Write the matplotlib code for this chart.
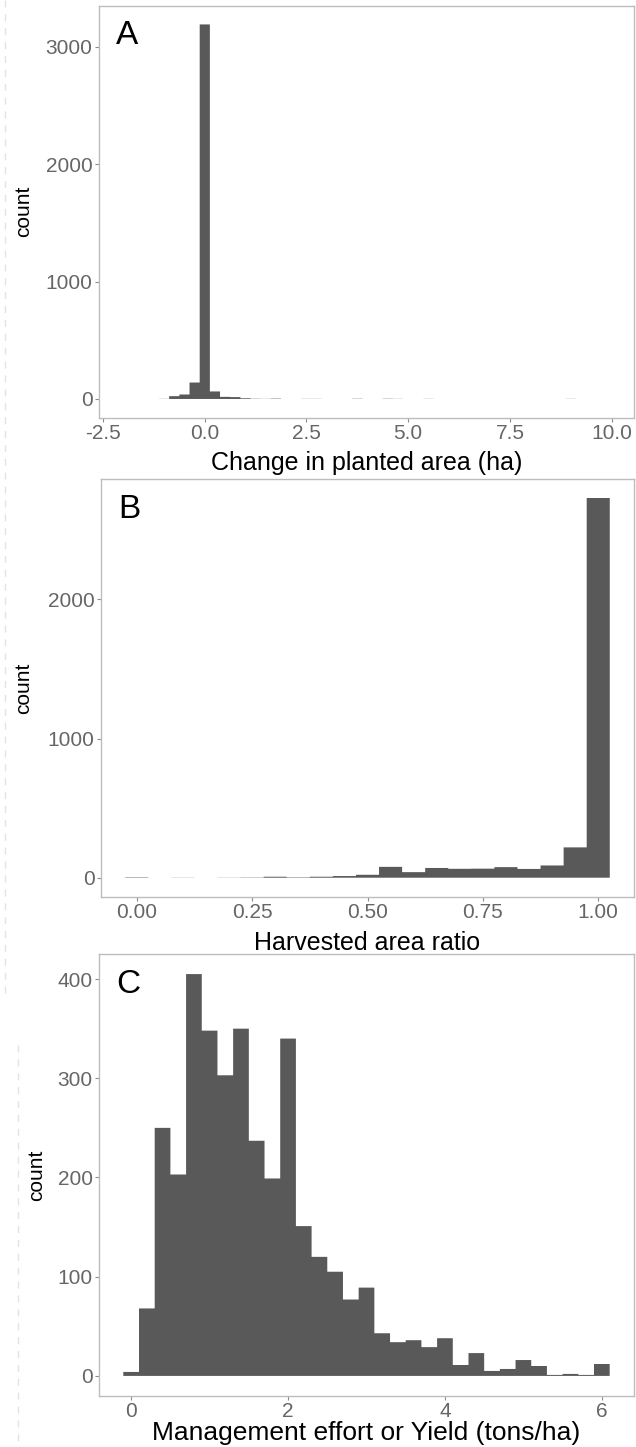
import matplotlib

matplotlib.use("Agg")
import matplotlib.pyplot as plt
import numpy as np
from matplotlib.lines import Line2D

plt.rcParams["font.family"] = ["Liberation Sans", "DejaVu Sans"]

# panel A: change in planted area, bin width 0.25
area_centers = [-1.0 + 0.25 * i for i in range(41)]
area_counts = [1, 24, 38, 140, 3190, 64, 18, 16, 6, 2, 1, 3, 0, 0, 1, 1, 0, 0, 0, 2,
               0, 0, 2, 1, 0, 0, 1, 0, 0, 0, 0, 0, 0, 0, 0, 0, 0, 0, 0, 0, 1]

# panel B: harvested area ratio, bin width 0.05
ratio_centers = [0.05 * i for i in range(21)]
ratio_counts = [3, 0, 1, 0, 1, 2, 7, 3, 7, 12, 21, 78, 40, 70, 64, 65, 76, 63, 88, 218, 2729]

# panel C: management effort / yield, bin width 0.2
yield_centers = [0.2 * i for i in range(31)]
yield_counts = [4, 68, 250, 203, 405, 348, 303, 350, 237, 199, 340, 151, 120, 105, 77, 89,
                43, 34, 36, 29, 38, 11, 23, 5, 7, 16, 10, 1, 2, 1, 12]

W, H = 636, 1447
BAR = "#595959"
EDGE = "#bdbdbd"
TICKTXT = "#666666"


def add_panel(fig, box, centers, counts, width, xlim, xticks, xfmt, yticks,
              letter, xlabel, xlabel_y, ylabel_x, xlabel_size=18):
    left, top, right, bottom = box
    ax = fig.add_axes([left / W, 1 - bottom / H, (right - left) / W, (bottom - top) / H])
    edges = np.append(np.asarray(centers) - width / 2, centers[-1] + width / 2)
    ax.stairs(counts, edges, fill=True, color=BAR, linewidth=0, snap=False)
    ymax = max(counts)
    ax.set_ylim(-0.05 * ymax, 1.05 * ymax)
    ax.set_xlim(*xlim)
    ax.set_xticks(xticks, labels=[xfmt.format(t) for t in xticks])
    ax.set_yticks(yticks)
    for spine in ax.spines.values():
        spine.set_color(EDGE)
        spine.set_linewidth(1.0)
    ax.tick_params(length=2.6, width=0.8, color="#8c8c8c", pad=2,
                   labelsize=15, labelcolor=TICKTXT)
    ax.text(0.032, 0.965, letter, transform=ax.transAxes, ha="left", va="top",
            fontsize=24, color="black")
    ax.set_xlabel(xlabel, fontsize=xlabel_size, color="black")
    ax.xaxis.set_label_coords(0.5, xlabel_y)
    ax.xaxis.label.set_va("center")
    ax.set_ylabel("count", fontsize=15, color="black")
    ax.yaxis.set_label_coords(ylabel_x, 0.5)
    ax.yaxis.label.set_va("center")
    return ax


fig = plt.figure(figsize=(W / 100, H / 100), dpi=100)

add_panel(fig, (99, 5.7, 634, 417.7), area_centers, area_counts, 0.25,
          (-2.6, 10.55), [-2.5, 0.0, 2.5, 5.0, 7.5, 10.0], "{:.1f}",
          [0, 1000, 2000, 3000], "A", "Change in planted area (ha)", -0.11, -0.14)

add_panel(fig, (101, 479, 634, 896.7), ratio_centers, ratio_counts, 0.05,
          (-0.0775, 1.0775), [0.0, 0.25, 0.5, 0.75, 1.0], "{:.2f}",
          [0, 1000, 2000], "B", "Harvested area ratio", -0.111, -0.145)

add_panel(fig, (99, 954, 634, 1396), yield_centers, yield_counts, 0.2,
          (-0.41, 6.41), [0, 2, 4, 6], "{:d}",
          [0, 100, 200, 300, 400], "C", "Management effort or Yield (tons/ha)", -0.083, -0.116,
          xlabel_size=19)

# faint dashed guide lines at the left margin of the original figure
fig.add_artist(Line2D([5 / W, 5 / W], [1, 1 - 1000 / H], color="#e3e3e3",
                      linewidth=1, linestyle=(0, (5, 5))))
fig.add_artist(Line2D([18 / W, 18 / W], [1 - 1045 / H, 0], color="#e3e3e3",
                      linewidth=1, linestyle=(0, (5, 5))))

fig.savefig("out.png", dpi=100)
plt.close(fig)
